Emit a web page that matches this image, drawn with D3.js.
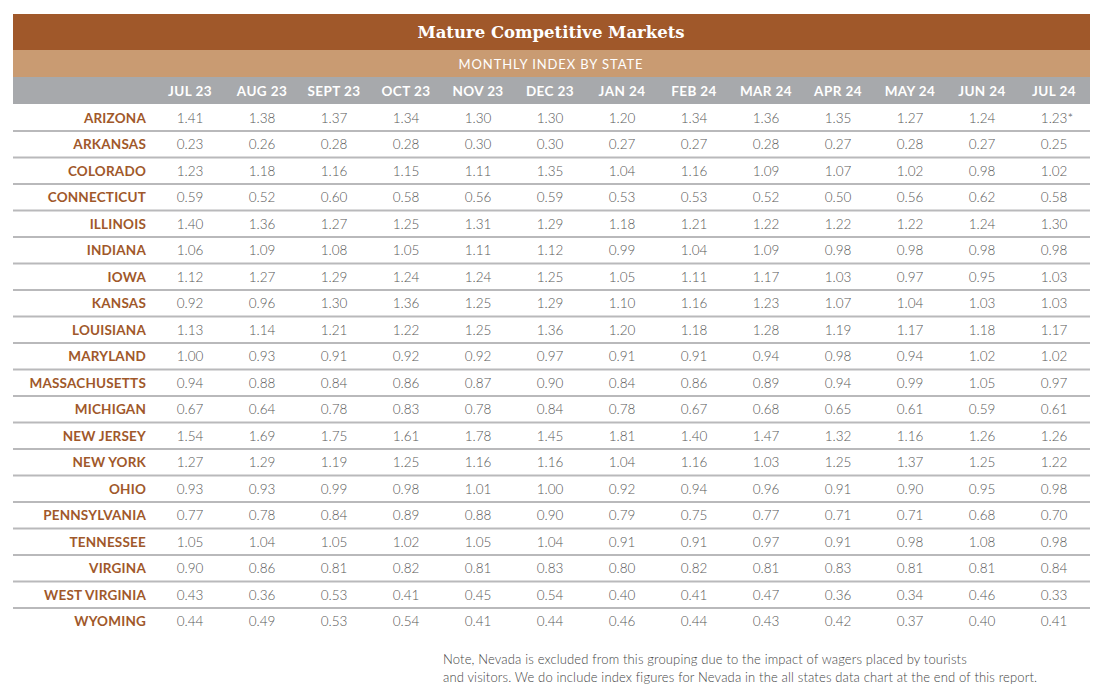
<!DOCTYPE html>
<html><head><meta charset="utf-8">
<script src="https://cdn.jsdelivr.net/npm/d3@7"></script>
<style>body{margin:0;background:#fff;}svg{display:block;}</style>
</head><body>
<svg id="c" width="1104" height="700"></svg>
<script>
const title = "Mature Competitive Markets";
const subtitle = "MONTHLY INDEX BY STATE";
const months = ["JUL 23","AUG 23","SEPT 23","OCT 23","NOV 23","DEC 23","JAN 24","FEB 24","MAR 24","APR 24","MAY 24","JUN 24","JUL 24"];
const states = ["ARIZONA","ARKANSAS","COLORADO","CONNECTICUT","ILLINOIS","INDIANA","IOWA","KANSAS","LOUISIANA","MARYLAND","MASSACHUSETTS","MICHIGAN","NEW JERSEY","NEW YORK","OHIO","PENNSYLVANIA","TENNESSEE","VIRGINA","WEST VIRGINIA","WYOMING"];
const arizona = ["1.41","1.38","1.37","1.34","1.30","1.30","1.20","1.34","1.36","1.35","1.27","1.24","1.23*"];
const arkansas = ["0.23","0.26","0.28","0.28","0.30","0.30","0.27","0.27","0.28","0.27","0.28","0.27","0.25"];
const colorado = ["1.23","1.18","1.16","1.15","1.11","1.35","1.04","1.16","1.09","1.07","1.02","0.98","1.02"];
const connecticut = ["0.59","0.52","0.60","0.58","0.56","0.59","0.53","0.53","0.52","0.50","0.56","0.62","0.58"];
const illinois = ["1.40","1.36","1.27","1.25","1.31","1.29","1.18","1.21","1.22","1.22","1.22","1.24","1.30"];
const indiana = ["1.06","1.09","1.08","1.05","1.11","1.12","0.99","1.04","1.09","0.98","0.98","0.98","0.98"];
const iowa = ["1.12","1.27","1.29","1.24","1.24","1.25","1.05","1.11","1.17","1.03","0.97","0.95","1.03"];
const kansas = ["0.92","0.96","1.30","1.36","1.25","1.29","1.10","1.16","1.23","1.07","1.04","1.03","1.03"];
const louisiana = ["1.13","1.14","1.21","1.22","1.25","1.36","1.20","1.18","1.28","1.19","1.17","1.18","1.17"];
const maryland = ["1.00","0.93","0.91","0.92","0.92","0.97","0.91","0.91","0.94","0.98","0.94","1.02","1.02"];
const massachusetts = ["0.94","0.88","0.84","0.86","0.87","0.90","0.84","0.86","0.89","0.94","0.99","1.05","0.97"];
const michigan = ["0.67","0.64","0.78","0.83","0.78","0.84","0.78","0.67","0.68","0.65","0.61","0.59","0.61"];
const newJersey = ["1.54","1.69","1.75","1.61","1.78","1.45","1.81","1.40","1.47","1.32","1.16","1.26","1.26"];
const newYork = ["1.27","1.29","1.19","1.25","1.16","1.16","1.04","1.16","1.03","1.25","1.37","1.25","1.22"];
const ohio = ["0.93","0.93","0.99","0.98","1.01","1.00","0.92","0.94","0.96","0.91","0.90","0.95","0.98"];
const pennsylvania = ["0.77","0.78","0.84","0.89","0.88","0.90","0.79","0.75","0.77","0.71","0.71","0.68","0.70"];
const tennessee = ["1.05","1.04","1.05","1.02","1.05","1.04","0.91","0.91","0.97","0.91","0.98","1.08","0.98"];
const virgina = ["0.90","0.86","0.81","0.82","0.81","0.83","0.80","0.82","0.81","0.83","0.81","0.81","0.84"];
const westVirginia = ["0.43","0.36","0.53","0.41","0.45","0.54","0.40","0.41","0.47","0.36","0.34","0.46","0.33"];
const wyoming = ["0.44","0.49","0.53","0.54","0.41","0.44","0.46","0.44","0.43","0.42","0.37","0.40","0.41"];
const noteLines = ["Note, Nevada is excluded from this grouping due to the impact of wagers placed by tourists",
  "and visitors. We do include index figures for Nevada in the all states data chart at the end of this report."];

const values = [arizona,arkansas,colorado,connecticut,illinois,indiana,iowa,kansas,louisiana,maryland,massachusetts,michigan,newJersey,newYork,ohio,pennsylvania,tennessee,virgina,westVirginia,wyoming];

const svg = d3.select("#c");
const L = 13, R = 1090;
const brown = "#A0582A", tan = "#C99B72", grey = "#A7A9AC";
const sans = "'Century Gothic','Lato','Open Sans','DejaVu Sans',sans-serif";

svg.append("rect").attr("x",L).attr("y",14).attr("width",R-L).attr("height",36).attr("fill",brown);
svg.append("rect").attr("x",L).attr("y",50).attr("width",R-L).attr("height",27).attr("fill",tan);
svg.append("rect").attr("x",L).attr("y",77).attr("width",R-L).attr("height",27).attr("fill",grey);

svg.append("text").attr("x",551).attr("y",38).attr("text-anchor","middle")
  .attr("font-family","'DejaVu Serif','Liberation Serif',serif").attr("font-weight","bold")
  .attr("font-size",16.5).attr("fill","#fff").text(title);
svg.append("text").attr("x",551).attr("y",69).attr("text-anchor","middle")
  .attr("font-family",sans).attr("font-size",13).attr("fill","#fff").attr("letter-spacing",0.9).text(subtitle);

const x = d3.scaleBand().domain(months).range([154,1090]).padding(0);
const y = d3.scaleBand().domain(states).range([104.5,634.5]);

svg.selectAll(".mh").data(months).join("text")
  .attr("x",d=>x(d)+x.bandwidth()/2).attr("y",96).attr("text-anchor","middle")
  .attr("font-family",sans).attr("font-weight","bold").attr("font-size",13.5)
  .attr("fill","#fff").attr("letter-spacing",0.4).text(d=>d);

// separators
svg.selectAll(".sep").data(states.slice(0,-1)).join("line")
  .attr("x1",L).attr("x2",R)
  .attr("y1",d=>y(d)+y.bandwidth()).attr("y2",d=>y(d)+y.bandwidth())
  .attr("stroke","#B9B9BB").attr("stroke-width",2);

svg.selectAll(".st").data(states).join("text")
  .attr("x",146).attr("y",d=>y(d)+y.bandwidth()/2+5).attr("text-anchor","end")
  .attr("font-family",sans).attr("font-weight","bold").attr("font-size",13.5)
  .attr("fill",brown).attr("letter-spacing",0.2).text(d=>d);

states.forEach((s,i)=>{
  svg.selectAll(".v"+i).data(values[i]).join("text")
    .attr("x",(d,j)=>x(months[j])+x.bandwidth()/2 + (d.endsWith("*")?3:0))
    .attr("y",y(s)+y.bandwidth()/2+5).attr("text-anchor","middle")
    .attr("font-family",sans).attr("font-weight",300).attr("font-size",13.5)
    .attr("fill","#585858").text(d=>d);
});

svg.selectAll(".note").data(noteLines).join("text")
  .attr("x",443).attr("y",(d,i)=>664+i*18)
  .attr("font-family",sans).attr("font-weight",300).attr("font-size",13)
  .attr("letter-spacing",0.15)
  .attr("fill","#444").text(d=>d);
</script>
</body></html>
